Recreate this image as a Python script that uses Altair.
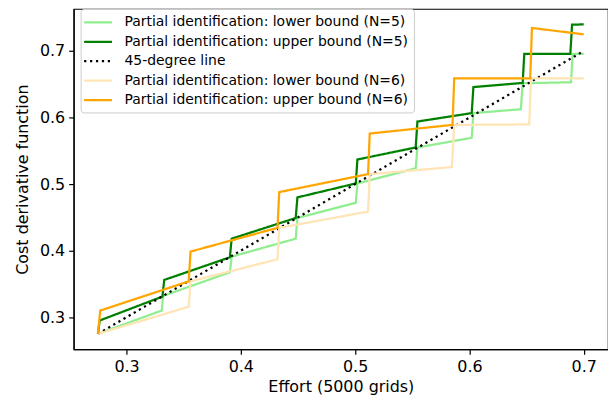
import altair as alt
import pandas as pd

# Series labels (legend order)
S_LOW5 = "Partial identification: lower bound (N=5)"
S_UP5 = "Partial identification: upper bound (N=5)"
S_45 = "45-degree line"
S_LOW6 = "Partial identification: lower bound (N=6)"
S_UP6 = "Partial identification: upper bound (N=6)"
series_names = [S_LOW5, S_UP5, S_45, S_LOW6, S_UP6]
series_colors = ["#90ee90", "#008000", "#000000", "#ffe4b5", "#ffa500"]

# Values
low5_x = [0.275, 0.3308, 0.332, 0.3904, 0.392, 0.448, 0.4495, 0.5006, 0.502, 0.553, 0.5545,
          0.602, 0.6035, 0.645, 0.6466, 0.6889, 0.6903, 0.700]
low5_y = [0.275, 0.310, 0.332, 0.3674, 0.391, 0.418, 0.449, 0.472, 0.501, 0.5237, 0.555,
          0.5696, 0.6067, 0.6125, 0.6516, 0.653, 0.6956, 0.6956]

up5_x = [0.275, 0.2765, 0.3314, 0.333, 0.3904, 0.392, 0.448, 0.4495, 0.5006, 0.502, 0.553,
         0.5545, 0.602, 0.6035, 0.6466, 0.648, 0.6883, 0.6898, 0.700]
up5_y = [0.275, 0.295, 0.331, 0.356, 0.390, 0.418, 0.449, 0.480, 0.501, 0.537, 0.555,
         0.594, 0.6067, 0.6458, 0.652, 0.6956, 0.6956, 0.7396, 0.740]

line45_x = [0.275, 0.700]
line45_y = [0.275, 0.700]

low6_x = [0.275, 0.3544, 0.356, 0.4321, 0.4336, 0.5113, 0.5128, 0.5847, 0.5867, 0.6523,
          0.654, 0.700]
low6_y = [0.275, 0.3157, 0.3538, 0.387, 0.4343, 0.4587, 0.515, 0.5256, 0.589, 0.5897,
          0.659, 0.659]

up6_x = [0.275, 0.277, 0.3544, 0.356, 0.4321, 0.4336, 0.5113, 0.5128, 0.5852, 0.5867,
         0.6532, 0.6547, 0.700]
up6_y = [0.275, 0.310, 0.3538, 0.3986, 0.4343, 0.488, 0.515, 0.576, 0.589, 0.659,
         0.659, 0.7347, 0.725]

x_ticks = [0.3, 0.4, 0.5, 0.6, 0.7]
y_ticks = [0.3, 0.4, 0.5, 0.6, 0.7]

rows = []
for name, xs, ys in [(S_LOW5, low5_x, low5_y), (S_UP5, up5_x, up5_y), (S_45, line45_x, line45_y),
                     (S_LOW6, low6_x, low6_y), (S_UP6, up6_x, up6_y)]:
    for i, (xv, yv) in enumerate(zip(xs, ys)):
        rows.append({"series": name, "x": xv, "y": yv, "i": i})
df = pd.DataFrame(rows)

FONT = "DejaVu Sans"

x_enc = alt.X("x:Q", scale=alt.Scale(domain=[0.25375, 0.72125], nice=False, zero=False),
              axis=alt.Axis(title="Effort (5000 grids)", values=x_ticks, format=".1f"))
y_enc = alt.Y("y:Q", scale=alt.Scale(domain=[0.2518, 0.7632], nice=False, zero=False),
              axis=alt.Axis(title="Cost derivative function", values=y_ticks, format=".1f"))
color_enc = alt.Color("series:N",
                      scale=alt.Scale(domain=series_names, range=series_colors),
                      legend=alt.Legend(title=None, orient="none", legendX=7, legendY=0))
dash_enc = alt.StrokeDash("series:N",
                          scale=alt.Scale(domain=series_names,
                                          range=[[1, 0], [1, 0], [2.25, 3.7], [1, 0], [1, 0]]),
                          legend=alt.Legend(title=None, orient="none", legendX=7, legendY=0))

layers = []
for name in series_names:
    layers.append(
        alt.Chart(df).transform_filter(alt.datum.series == name)
        .mark_line(strokeWidth=2.25, clip=True)
        .encode(x=x_enc, y=y_enc, color=color_enc, strokeDash=dash_enc,
                order=alt.Order("i:Q"))
    )

chart = alt.layer(*layers).properties(
    width=537, height=342,
    autosize=alt.AutoSizeParams(type="none"),
    padding={"left": 66, "top": 0, "right": 0, "bottom": 46},
).configure(font=FONT).configure_view(
    stroke="black", strokeWidth=1.2
).configure_axis(
    grid=False, domainColor="black", domainWidth=1.2, tickColor="black", tickWidth=1.2,
    tickSize=5, labelPadding=4, labelFontSize=16, titleFontSize=16, labelColor="black",
    titleColor="black", titleFontWeight="normal", labelFont=FONT, titleFont=FONT
).configure_axisY(titlePadding=9).configure_axisX(titlePadding=4).configure_legend(
    fillColor="white", strokeColor="#cccccc", cornerRadius=3, padding=5,
    labelFontSize=14, labelFont=FONT, labelColor="black", labelLimit=400,
    symbolType="M-1.43,0L2.57,0", symbolSize=196, symbolStrokeWidth=2.25,
    labelOffset=22, rowPadding=3.5
)

chart.save("out.html", embed_options={"renderer": "svg", "actions": False})
